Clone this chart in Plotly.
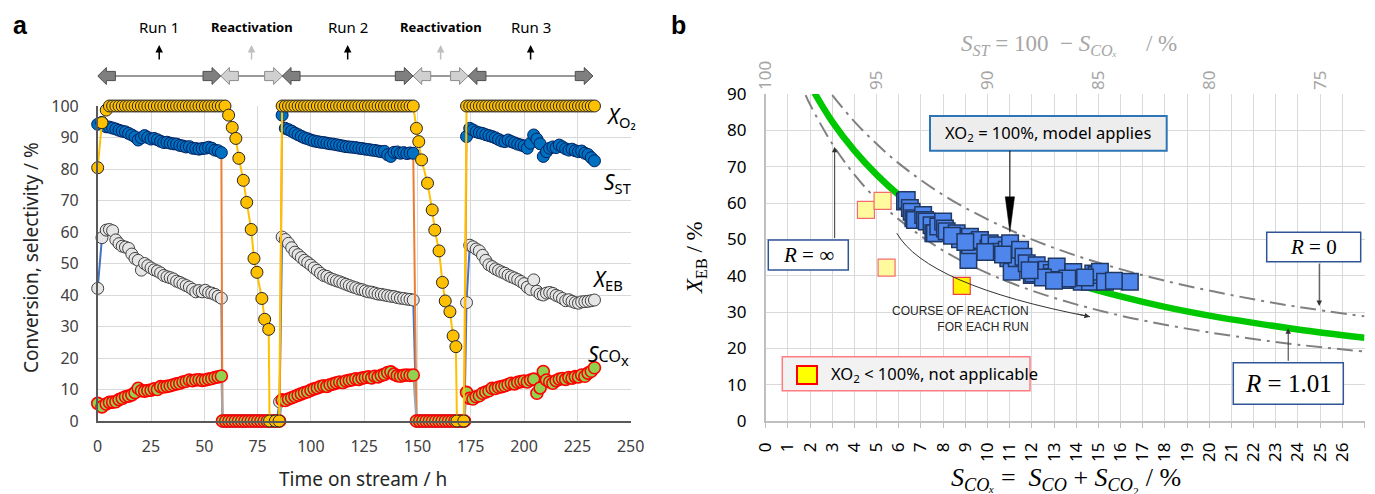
import plotly.graph_objects as go

# ---------------- panel a: time-on-stream data (h, %) ----------------
t_run1 = [0, 2, 4, 5.5, 7, 8.5, 10, 11.5, 13, 14.5, 16, 17.5, 19, 20.5, 22, 23.5, 25, 26.5, 28, 29.5,
          31, 32.5, 34, 35.5, 37, 38.5, 40, 41.5, 43, 44.5, 46, 47.5, 49, 50.5, 52, 53.5, 55, 56.5, 58]
sst_run1 = [94.2, 94.8, 93.4, 93.3, 93.0, 92.7, 92.3, 92.0, 91.8, 91.3, 90.8, 90.2, 89.2, 89.9, 90.6, 90.0,
            89.5, 89.7, 89.3, 88.8, 88.4, 88.5, 88.2, 88.0, 87.9, 87.5, 87.3, 87.0, 87.1, 86.6, 86.5, 86.3,
            86.5, 86.6, 86.9, 86.6, 86.0, 85.8, 85.2]
xeb_run1 = [42.1, 58.2, 60.6, 60.8, 60.4, 57.5, 56.3, 55.5, 55.2, 54.8, 53.0, 51.6, 51.0, 47.9, 50.0, 49.3,
            48.6, 48.0, 47.6, 47.0, 46.2, 45.8, 45.5, 45.1, 44.4, 44.0, 43.5, 43.0, 42.5, 41.8, 41.0, 41.4,
            41.0, 41.5, 40.8, 40.6, 40.2, 39.6, 39.0]
scox_run1 = [5.6, 4.5, 5.4, 5.9, 6.0, 6.1, 6.8, 7.2, 7.7, 7.9, 8.3, 9.0, 10.4, 9.6, 9.5, 9.7, 9.8, 10.2,
             10.0, 10.9, 10.8, 11.0, 11.2, 11.5, 11.8, 12.0, 12.4, 12.6, 13.0, 12.8, 13.0, 13.1, 12.9, 13.0,
             13.3, 13.5, 13.8, 14.0, 14.3]
xo2_run1 = [80.4, 94.7, 98.7, 100, 100, 100, 100, 100, 100, 100, 100, 100, 100, 100, 100, 100, 100, 100,
            100, 100, 100, 100, 100, 100, 100, 100, 100, 100, 100, 100, 100, 100, 100, 100, 100, 100, 100,
            100, 100]

t_react1 = [58.5, 60, 61.5, 63, 64.5, 66, 67.5, 69, 70.5, 72, 73.5, 75, 76.5, 78, 79.5, 81, 82.5, 84, 85.3]
sst_react1 = [0, 0, 0, 0, 0, 0, 0, 0, 0, 0, 0, 0, 0, 0, 0, 0, 0, 0, 0]
xeb_react1 = [0, 0, 0, 0, 0, 0, 0, 0, 0, 0, 0, 0, 0, 0, 0, 0, 0, 0, 6.1]
scox_react1 = [0, 0, 0, 0, 0, 0, 0, 0, 0, 0, 0, 0, 0, 0, 0, 0, 0, 0, 0]
t_o2_react1 = [59.7, 61.4, 63.1, 64.8, 66.2, 68.3, 69.9, 72.0, 73.3, 74.7, 77.0, 78.3, 80.2, 80.6, 83.3, 85.1]
xo2_react1 = [100, 97.1, 93.2, 89.7, 83.4, 76.4, 69.4, 60.8, 51.6, 47.2, 38.9, 32.3, 29.1, 0, 0, 0]

t_run2 = [86.5, 88, 89.5, 91, 92.5, 94, 95.5, 97, 98.5, 100, 101.5, 103, 104.5, 106, 107.5, 109, 110.5,
          112, 113.5, 115, 116.5, 118, 119.5, 121, 122.5, 124, 125.5, 127, 128.5, 130, 131.5, 133, 134.5,
          136, 137.5, 139, 140.5, 142, 143.5, 145, 146.5, 148]
sst_run2 = [97.1, 92.9, 92.5, 92.0, 91.4, 90.9, 90.4, 89.9, 89.6, 89.2, 88.9, 88.7, 88.5, 88.4, 88.2, 88.0,
            87.9, 87.7, 87.5, 87.3, 87.1, 87.0, 86.9, 86.8, 86.6, 86.5, 86.3, 86.2, 86.0, 85.9, 85.7, 85.5,
            85.6, 84.5, 84.0, 85.3, 85.4, 85.0, 85.2, 84.9, 85.1, 85.0]
xeb_run2 = [58.4, 57.6, 56.4, 55.0, 53.6, 52.8, 51.9, 51.0, 50.3, 49.5, 48.6, 47.8, 46.9, 46.2, 45.9, 45.3,
            44.9, 44.5, 44.2, 43.8, 43.4, 43.0, 42.6, 42.3, 41.9, 41.7, 41.3, 41.0, 40.9, 40.6, 40.3, 40.2,
            40.0, 39.8, 39.6, 39.5, 39.2, 39.0, 38.9, 38.7, 38.6, 38.4]
scox_run2 = [6.7, 6.5, 7.0, 7.4, 7.8, 8.2, 8.6, 9.0, 9.3, 9.8, 10.2, 10.5, 10.9, 11.2, 11.0, 11.5, 11.8,
             12.1, 12.4, 12.2, 12.7, 12.9, 13.1, 13.4, 13.2, 13.6, 13.8, 14.0, 13.7, 14.2, 14.0, 14.5, 14.8,
             15.4, 15.6, 14.9, 14.4, 14.2, 14.5, 14.6, 14.5, 14.6]
xo2_run2 = [100, 100, 100, 100, 100, 100, 100, 100, 100, 100, 100, 100, 100, 100, 100, 100, 100, 100, 100,
            100, 100, 100, 100, 100, 100, 100, 100, 100, 100, 100, 100, 100, 100, 100, 100, 100, 100, 100,
            100, 100, 100, 100]

t_react2 = [149.5, 151, 152.5, 154, 155.5, 157, 158.5, 160, 161.5, 163, 164.5, 166, 167.5, 169, 170.5, 172]
sst_react2 = [0, 0, 0, 0, 0, 0, 0, 0, 0, 0, 0, 0, 0, 0, 0, 0]
xeb_react2 = [0, 0, 0, 0, 0, 0, 0, 0, 0, 0, 0, 0, 0, 0, 0, 0]
scox_react2 = [0, 0, 0, 0, 0, 0, 0, 0, 0, 0, 0, 0, 0, 0, 0, 0]
t_o2_react2 = [149.5, 150.6, 151.9, 154.7, 156.9, 158.1, 160.1, 161.7, 163.0, 165.2, 166.7, 168.0, 168.5, 171.7]
xo2_react2 = [92.9, 88.7, 82.9, 75.5, 67.0, 60.6, 54.0, 44.0, 38.1, 34.7, 27.0, 23.6, 0, 0]

t_run3 = [173, 174.5, 176, 177.5, 179, 180.5, 182, 183.5, 185, 186.5, 188, 189.5, 191, 192.5, 194, 195.5,
          197, 198.5, 200, 201.5, 203, 204.5, 206, 207.5, 209, 210.5, 212, 213.5, 215, 216.5, 218, 219.5,
          221, 222.5, 224, 225.5, 227, 228.5, 230, 231.5, 233]
sst_run3 = [90.3, 92.9, 92.4, 91.8, 91.5, 91.3, 90.9, 90.6, 90.3, 89.9, 89.4, 88.9, 88.7, 89.2, 88.7, 88.3,
            87.9, 87.6, 87.3, 86.6, 88.2, 90.8, 89.5, 88.0, 84.0, 85.5, 86.6, 87.0, 86.8, 87.6, 87.0, 86.4,
            86.0, 86.3, 85.8, 85.5, 85.7, 85.0, 84.6, 83.6, 82.6]
xeb_run3 = [37.6, 55.8, 55.3, 54.6, 54.0, 52.6, 51.0, 49.6, 49.0, 48.3, 47.8, 47.3, 46.9, 46.3, 45.8, 45.4,
            44.9, 44.3, 43.6, 42.5, 41.8, 44.8, 41.2, 40.3, 40.0, 40.6, 40.8, 40.5, 39.9, 39.5, 38.9, 38.2,
            38.5, 38.0, 37.6, 37.4, 37.8, 37.9, 38.0, 38.2, 38.4]
scox_run3 = [9.1, 7.2, 7.0, 7.7, 8.0, 8.8, 9.2, 9.6, 10.4, 10.3, 10.7, 10.9, 11.2, 11.6, 12.0, 11.8, 12.3,
             12.5, 12.7, 12.4, 13.0, 13.3, 8.8, 10.5, 15.7, 13.0, 12.4, 12.0, 12.8, 13.3, 13.5, 13.2, 13.8,
             13.6, 14.1, 14.0, 14.6, 14.2, 15.2, 15.8, 16.9]
xo2_run3 = [100, 100, 100, 100, 100, 100, 100, 100, 100, 100, 100, 100, 100, 100, 100, 100, 100, 100, 100,
            100, 100, 100, 100, 100, 100, 100, 100, 100, 100, 100, 100, 100, 100, 100, 100, 100, 100, 100,
            100, 100, 100]

# campaign phases shown above panel a (h)
phase_bounds = [0, 57.7, 86.6, 147.9, 173.8, 232.3]
phase_names = ["Run 1", "Reactivation", "Run 2", "Reactivation", "Run 3"]

# ---------------- panel b: X_EB vs S_COx (%) ----------------
sco_x_model = [2.2, 3, 4, 5, 6, 7, 8, 9, 10, 12, 14, 16, 18, 20, 22, 24, 27]
xeb_r101 = [90.3, 82.4, 74.4, 67.8, 62.2, 57.5, 53.5, 50.0, 46.9, 41.8, 37.7, 34.3, 31.4, 29.0, 27.0, 25.2, 22.9]
sco_x_r0 = [3.0, 4, 5, 6, 8, 10, 12, 14, 16, 18, 20, 22, 24, 27]
xeb_r0 = [89.7, 82.4, 76.3, 70.9, 62.2, 55.5, 50.0, 45.5, 41.8, 38.6, 35.9, 33.5, 31.4, 28.8]
sco_x_rinf = [1.8, 2, 3, 4, 5, 6, 8, 10, 12, 14, 16, 18, 20, 22, 24, 27]
xeb_rinf = [89.7, 87.1, 76.3, 67.8, 61.0, 55.5, 46.9, 40.7, 35.9, 32.1, 29.0, 26.5, 24.4, 22.6, 21.0, 19.1]
sst_top_ticks = [100, 95, 90, 85, 80, 75]

full_o2_scox = [6.28, 6.36, 6.50, 6.58, 6.66, 6.73, 7.10, 7.18, 7.26, 7.48, 7.56, 7.63, 7.78, 8.00, 8.08,
                8.16, 8.61, 8.76, 9.14, 9.21, 9.21, 9.59, 9.66, 10.04, 10.10, 10.41, 10.56, 10.87, 10.94,
                11.02, 11.09, 11.32, 11.47, 11.62, 11.77, 12.00, 12.07, 12.22, 12.67, 12.90, 12.97, 13.12,
                13.27, 13.42, 13.87, 14.17, 14.25, 14.62, 14.77, 14.92, 15.07, 15.30, 16.42,
                12.5, 13.6, 14.4, 15.7, 11.9, 10.7, 9.9, 8.4, 9.0, 13.0]
full_o2_xeb = [60.4, 60.8, 58.6, 57.6, 55.8, 55.3, 56.7, 55.3, 54.9, 53.9, 51.7, 51.7, 53.5, 54.9, 53.0,
               52.2, 51.7, 50.0, 44.3, 50.7, 48.4, 49.4, 49.8, 47.5, 48.9, 48.4, 46.6, 47.1, 44.8,
               48.9, 41.1, 44.8, 47.1, 45.2, 43.4, 40.2, 40.6, 42.9, 41.6, 40.7, 39.7, 42.5,
               38.8, 38.8, 41.0, 38.8, 38.3, 38.3, 40.6, 40.2, 41.1, 38.3, 38.3,
               39.5, 39.2, 39.5, 38.6, 41.5, 45.8, 46.5, 51.0, 49.3, 38.6]
part_o2_scox_run1 = [4.52, 5.27, 5.45]
part_o2_xeb_run1 = [58.1, 60.6, 42.2]
part_o2_scox_run3 = [8.84]
part_o2_xeb_run3 = [37.2]

# ---------------- figure geometry ----------------
W, H = 1375, 494


def fx(p):
    return p / W


def fy(p):
    return 1 - p / H


TXT = "#262626"
SANS = "Noto Sans"
SERIF = "Liberation Serif"

t_s = t_run1 + t_react1 + t_run2 + t_react2 + t_run3
sst = sst_run1 + sst_react1 + sst_run2 + sst_react2 + sst_run3
xeb = xeb_run1 + xeb_react1 + xeb_run2 + xeb_react2 + xeb_run3
scox = scox_run1 + scox_react1 + scox_run2 + scox_react2 + scox_run3
t_o2 = t_run1 + t_o2_react1 + t_run2 + t_o2_react2 + t_run3
xo2 = xo2_run1 + xo2_react1 + xo2_run2 + xo2_react2 + xo2_run3

fig = go.Figure()


def series(x, y, line_col, fill, edge, edge_w, name):
    fig.add_trace(go.Scatter(
        x=x, y=y, mode="lines+markers", name=name, xaxis="x", yaxis="y",
        line=dict(color=line_col, width=2),
        marker=dict(symbol="circle", size=12, color=fill, line=dict(color=edge, width=edge_w)),
        cliponaxis=False, showlegend=False))


series(t_s, xeb, "#4472C4", "#E7E6E6", "#404040", 1, "X_EB")
series(t_s, sst, "#ED7D31", "#0070C0", "#002060", 1, "S_ST")
series(t_s, scox, "#A5A5A5", "#92D050", "#FF0000", 1.6, "S_COx")
series(t_o2, xo2, "#FFC000", "#FFC000", "#262626", 1, "X_O2")

# panel b curves
dashdot = "16px,6px,3px,6px"
fig.add_trace(go.Scatter(x=sco_x_r0, y=xeb_r0, mode="lines", xaxis="x2", yaxis="y2",
                         line=dict(color="#808080", width=2, dash=dashdot, shape="spline"), showlegend=False))
fig.add_trace(go.Scatter(x=sco_x_rinf, y=xeb_rinf, mode="lines", xaxis="x2", yaxis="y2",
                         line=dict(color="#808080", width=2, dash=dashdot, shape="spline"), showlegend=False))
fig.add_trace(go.Scatter(x=sco_x_model, y=xeb_r101, mode="lines", xaxis="x2", yaxis="y2",
                         line=dict(color="#00C800", width=6.5, shape="spline"), showlegend=False))
fig.add_trace(go.Scatter(x=full_o2_scox, y=full_o2_xeb, mode="markers", xaxis="x2", yaxis="y2",
                         marker=dict(symbol="square", size=16.5, color="#4F86EC",
                                     line=dict(color="#1F3864", width=1.5)), showlegend=False))
fig.add_trace(go.Scatter(x=part_o2_scox_run1, y=part_o2_xeb_run1, mode="markers", xaxis="x2", yaxis="y2",
                         marker=dict(symbol="square", size=17, color="#FFFA9E",
                                     line=dict(color="#F26D6D", width=1.2)), showlegend=False))
fig.add_trace(go.Scatter(x=part_o2_scox_run3, y=part_o2_xeb_run3, mode="markers", xaxis="x2", yaxis="y2",
                         marker=dict(symbol="square", size=17, color="#FFF200",
                                     line=dict(color="#F04040", width=1.2)), showlegend=False))
# secondary S_ST scale on top (S_ST = 100 - S_COx); invisible carrier trace for the axis
fig.add_trace(go.Scatter(x=sst_top_ticks, y=[None] * len(sst_top_ticks), mode="markers",
                         xaxis="x3", yaxis="y2", hoverinfo="skip", showlegend=False))

shapes = []
ann = []

# phase bars with block arrow heads
bar_y = fy(76)
head_left = "M0,0 L8.7,8.5 L8.7,4.6 L17.7,4.6 L17.7,-4.6 L8.7,-4.6 L8.7,-8.5 Z"
head_right = "M0,0 L-8.7,8.5 L-8.7,4.6 L-17.7,4.6 L-17.7,-4.6 L-8.7,-4.6 L-8.7,-8.5 Z"
for i, name in enumerate(phase_names):
    a, b = phase_bounds[i], phase_bounds[i + 1]
    react = name == "Reactivation"
    fill = "#D0D0D0" if react else "#7F7F7F"
    edge = "#8C8C8C" if react else "#4D4D4D"
    shapes.append(dict(type="line", xref="x", yref="paper", x0=a, x1=b, y0=bar_y, y1=bar_y,
                       line=dict(color="#333333", width=1)))
    for anchor, path in ((a, head_left), (b, head_right)):
        shapes.append(dict(type="path", xref="x", yref="paper", xsizemode="pixel", ysizemode="pixel",
                           xanchor=anchor, yanchor=bar_y, path=path, fillcolor=fill,
                           line=dict(color=edge, width=1)))
    mid = (a + b) / 2
    col = "#BFBFBF" if react else "#000000"
    ann.append(dict(x=mid, y=fy(27), xref="x", yref="paper", showarrow=False,
                    text=("<b>%s</b>" % name) if react else name,
                    font=dict(family=SANS, size=13 if react else 15, color="#000000")))
    ann.append(dict(x=mid, y=fy(45), xref="x", yref="paper", text="", showarrow=True,
                    ax=0, ay=16, arrowhead=2, arrowsize=1, arrowwidth=1.5, arrowcolor=col))

# series labels of panel a
for text, xp, yp, sz in (("<i>X</i><sub>O₂</sub>", 621, 117, 21),
                         ("<i>S</i><sub>ST</sub>", 617, 183, 21),
                         ("<i>X</i><sub>EB</sub>", 607, 280, 21),
                         ("<i>S</i><span style='font-size:16px'>CO</span><sub>x</sub>", 608, 355, 21)):
    ann.append(dict(x=fx(xp), y=fy(yp), xref="paper", yref="paper", text=text, showarrow=False,
                    font=dict(family=SANS, size=sz, color="#000000")))

# titles
ann += [
    dict(x=fx(20), y=fy(25), xref="paper", yref="paper", text="<b>a</b>", showarrow=False,
         font=dict(family="Liberation Sans", size=25, color="#000000")),
    dict(x=fx(678), y=fy(25), xref="paper", yref="paper", text="<b>b</b>", showarrow=False,
         font=dict(family="Liberation Sans", size=25, color="#000000")),
    dict(x=fx(31), y=fy(258), xref="paper", yref="paper", text="Conversion, selectivity / %",
         textangle=-90, showarrow=False, font=dict(family=SANS, size=19, color=TXT)),
    dict(x=fx(363), y=fy(479), xref="paper", yref="paper", text="Time on stream / h",
         showarrow=False, font=dict(family=SANS, size=19, color=TXT)),
    dict(x=fx(696), y=fy(258), xref="paper", yref="paper", text="<i>X</i><sub>EB</sub> / %",
         textangle=-90, showarrow=False, font=dict(family=SERIF, size=23, color="#000000")),
    dict(x=fx(1066), y=fy(479), xref="paper", yref="paper",
         text="<i>S</i><sub><i>COₓ</i></sub> =  <i>S</i><sub><i>CO</i></sub> + <i>S</i><sub><i>CO</i>₂</sub> / %",
         showarrow=False, font=dict(family=SERIF, size=26, color="#000000")),
    dict(x=fx(1069), y=fy(45), xref="paper", yref="paper",
         text="<i>S</i><sub><i>ST</i></sub> = 100  − <i>S</i><sub><i>COₓ</i></sub>     / %",
         showarrow=False, font=dict(family=SERIF, size=23, color="#A6A6A6")),
]


def box(x0, y0, x1, y1, fill, edge, w):
    shapes.append(dict(type="rect", xref="paper", yref="paper", x0=fx(x0), x1=fx(x1), y0=fy(y1), y1=fy(y0),
                       fillcolor=fill, line=dict(color=edge, width=w), layer="above"))


# panel b call-outs
box(930, 116, 1166.7, 150.7, "#EDEDED", "#2E75B6", 2)
ann.append(dict(x=fx(1048.3), y=fy(133.3), xref="paper", yref="paper", showarrow=False,
                text="XO<sub>2</sub> = 100%, model applies", font=dict(family=SANS, size=16.5, color="#000000")))
shapes.append(dict(type="line", xref="x2", yref="y2", x0=11.01, x1=11.01, y0=74.4, y1=61.7,
                   line=dict(color="#000000", width=1)))
shapes.append(dict(type="path", xref="x2", yref="y2", path="M 10.80,61.7 L 11.22,61.7 L 11.01,52.0 Z",
                   fillcolor="#000000", line=dict(color="#000000", width=0.5)))

box(782.3, 356.7, 1030, 390.7, "#F2F2F2", "#FF7C80", 1.5)
box(797, 366, 817, 384, "#FFFF00", "#FF0000", 2)
ann.append(dict(x=fx(829), y=fy(374), xref="paper", yref="paper", xanchor="left", showarrow=False,
                text="XO<sub>2</sub> &lt; 100%, not applicable", font=dict(family=SANS, size=16.5, color="#000000")))

for (x0, y0, x1, y1, label, sz) in ((768.3, 240, 848.3, 270, "<i>R</i> = ∞", 21),
                                    (1266.7, 232.3, 1360.7, 261.7, "<i>R</i> = 0", 21),
                                    (1233.3, 362.7, 1343.3, 404.3, "<i>R</i> = 1.01", 25)):
    box(x0, y0, x1, y1, "#FFFFFF", "#2F5597", 1.5)
    ann.append(dict(x=fx((x0 + x1) / 2), y=fy((y0 + y1) / 2), xref="paper", yref="paper", showarrow=False,
                    text=label, font=dict(family=SERIF, size=sz, color="#000000")))

for (xt, yt, ay) in ((3.11, 75.5, 93), (24.96, 31.65, -44), (23.56, 25.5, 34)):
    ann.append(dict(x=xt, y=yt, xref="x2", yref="y2", text="", showarrow=True, ax=0, ay=ay,
                    arrowhead=2, arrowsize=1.1, arrowwidth=1, arrowcolor="#333333"))

shapes.append(dict(type="path", xref="x2", yref="y2", path="M 5.91,51.7 Q 7.26,37.4 14.62,28.7",
                   line=dict(color="#333333", width=1)))
ann.append(dict(x=14.62, y=28.7, xref="x2", yref="y2", text="", showarrow=True, ax=-14, ay=-3,
                arrowhead=2, arrowsize=1.1, arrowwidth=1, arrowcolor="#333333"))
ann.append(dict(x=fx(1031), y=fy(319), xref="paper", yref="paper", xanchor="right", align="right",
                showarrow=False, text="COURSE OF REACTION<br>FOR EACH RUN",
                font=dict(family="Liberation Sans Narrow, Liberation Sans", size=12, color="#262626")))

for a_ in ann:
    a_.setdefault("xanchor", "center")
    a_.setdefault("yanchor", "middle")

grid = "#D9D9D9"
fig.update_layout(
    width=W, height=H, margin=dict(l=0, r=0, t=0, b=0, autoexpand=False),
    paper_bgcolor="white", plot_bgcolor="white",
    font=dict(family=SANS, color=TXT),
    xaxis=dict(domain=[fx(97.7), fx(630.7)], range=[0, 250], dtick=25, showgrid=True, gridcolor=grid,
               showline=True, linecolor="#595959", linewidth=1.5, zeroline=False, ticks="",
               tickfont=dict(family=SANS, size=16, color="#404040"), ticklabelstandoff=10, anchor="y",
               automargin=False),
    yaxis=dict(domain=[fy(421), fy(106)], range=[0, 100], dtick=10, showgrid=True, gridcolor=grid,
               showline=True, linecolor="#595959", linewidth=1.5, zeroline=False, ticks="",
               tickfont=dict(family=SANS, size=16, color="#404040"), ticklabelstandoff=14, anchor="x",
               automargin=False),
    xaxis2=dict(domain=[fx(765.7), fx(1364.5)], range=[0, 27], dtick=1, tickangle=-90, showgrid=True,
                gridcolor=grid, showline=True, linecolor="#BFBFBF", linewidth=1.5, zeroline=False,
                ticks="outside", ticklen=5, tickcolor="#BFBFBF",
                tickfont=dict(family=SANS, size=17, color="#000000"), ticklabelstandoff=8, anchor="y2",
                automargin=False),
    yaxis2=dict(domain=[fy(421), fy(94)], range=[0, 90], dtick=10, showgrid=True, gridcolor=grid,
                showline=True, linecolor="#BFBFBF", linewidth=1.5, zeroline=False, ticks="",
                tickfont=dict(family=SANS, size=17, color="#000000"), ticklabelstandoff=14, anchor="x2",
                automargin=False),
    xaxis3=dict(overlaying="x2", side="top", anchor="y2", range=[100, 73],
                tickvals=sst_top_ticks, tickangle=-90, showgrid=False, zeroline=False,
                showline=False, ticks="", tickfont=dict(family=SANS, size=17, color="#A6A6A6"),
                ticklabelstandoff=3, automargin=False),
    shapes=shapes, annotations=ann,
)

fig.write_html("out.html")
